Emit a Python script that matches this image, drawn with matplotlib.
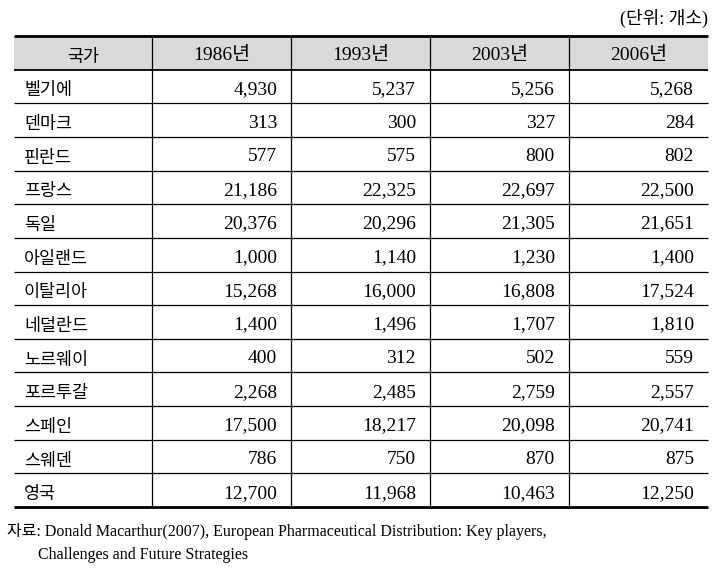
import matplotlib
matplotlib.use("Agg")
import matplotlib.pyplot as plt

plt.rcParams['font.family'] = ['Liberation Serif', 'Noto Sans CJK KR']

countries = ["벨기에", "덴마크", "핀란드", "프랑스", "독일", "아일랜드", "이탈리아",
             "네덜란드", "노르웨이", "포르투갈", "스페인", "스웨덴", "영국"]
years = ["1986년", "1993년", "2003년", "2006년"]
v1986 = [4930, 313, 577, 21186, 20376, 1000, 15268, 1400, 400, 2268, 17500, 786, 12700]
v1993 = [5237, 300, 575, 22325, 20296, 1140, 16000, 1496, 312, 2485, 18217, 750, 11968]
v2003 = [5256, 327, 800, 22697, 21305, 1230, 16808, 1707, 502, 2759, 20098, 870, 10463]
v2006 = [5268, 284, 802, 22500, 21651, 1400, 17524, 1810, 559, 2557, 20741, 875, 12250]
series = [v1986, v1993, v2003, v2006]

W, H = 723, 576
fig = plt.figure(figsize=(W / 100, H / 100), dpi=100)
ax = fig.add_axes([0, 0, 1, 1])
ax.set_xlim(0, W)
ax.set_ylim(H, 0)
ax.axis('off')

# table geometry (pixels)
col_x = [14, 152, 291, 430, 569, 708]
top, bottom = 36, 507
nrows = len(countries) + 1
rh = (bottom - top) / nrows

fs = 14
kfs = 12.5
ax.add_patch(plt.Rectangle((col_x[0], top), col_x[-1] - col_x[0], rh,
                           facecolor='#d9d9d9', edgecolor='none'))

# header
ax.text((col_x[0] + col_x[1]) / 2, top + rh / 2 + 3, "국가", ha='center',
        va='center_baseline', fontsize=kfs)
for j, y in enumerate(years):
    ax.text((col_x[j + 1] + col_x[j + 2]) / 2, top + rh / 2 + 1, y,
            ha='center', va='center_baseline', fontsize=fs)

# body
for i, c in enumerate(countries):
    yc = top + rh * (i + 1.5) + 1
    ax.text(col_x[0] + 10, yc + 2, c, ha='left', va='center_baseline', fontsize=kfs)
    for j, s in enumerate(series):
        ax.text(col_x[j + 2] - 14, yc, f"{s[i]:,}", ha='right',
                va='center_baseline', fontsize=fs)

# lines
for i in range(nrows + 1):
    y = top + rh * i
    lw = 2 if i in (0, nrows) else (1.3 if i == 1 else 0.9)
    ax.hlines(y, col_x[0], col_x[-1], color='black', lw=lw)
for x in col_x[1:-1]:
    ax.vlines(x, top, bottom, color='black', lw=0.9)

ax.text(708, 16, "(단위: 개소)", ha='right', va='center_baseline', fontsize=13)
ax.text(7, 529, "자료: Donald Macarthur(2007), European Pharmaceutical Distribution: Key players,",
        ha='left', va='center_baseline', fontsize=11.5)
ax.text(38, 553, "Challenges and Future Strategies", ha='left', va='center_baseline',
        fontsize=11.5)

fig.savefig("out.png", dpi=100)
